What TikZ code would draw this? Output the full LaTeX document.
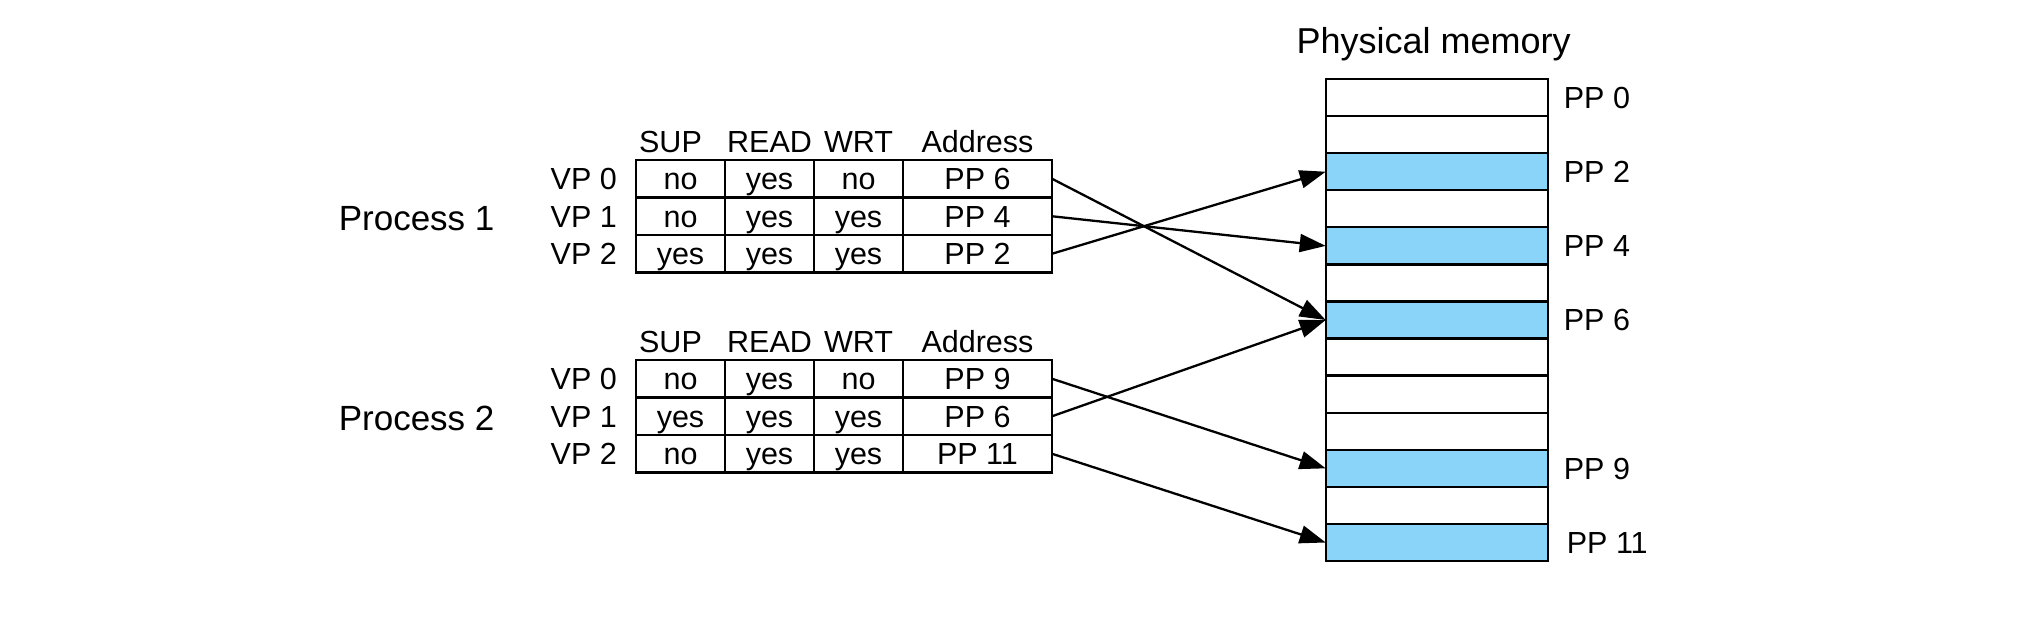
\documentclass[tikz,border=0pt]{standalone}
\usepackage{fontspec}
\setmainfont{Liberation Sans}
\usetikzlibrary{positioning,arrows.meta}
\definecolor{ppblue}{RGB}{138,212,250}

\begin{document}
\begin{tikzpicture}[x=1pt, y=-1pt, line width=2.3pt,
    txt/.style = {inner sep=0pt, text height=21.5pt, text depth=0pt, font=\fontsize{30.5}{36}\selectfont},
    cell/.style = {txt, draw, outer sep=0pt, minimum height=37.5pt},
    narrow/.style = {cell, minimum width=89pt},
    wide/.style = {cell, minimum width=149pt},
    frame/.style = {draw, inner sep=0pt, outer sep=0pt, minimum width=222pt, minimum height=37.08pt},
    used/.style = {frame, fill=ppblue},
    arrow/.style = {-{Triangle[length=26pt, width=18pt]}}]
    \useasboundingbox (0,0) rectangle (2042,622);

    % process 1
    \node[narrow, anchor=north west] (a0) at (636,160) {no};
    \node[narrow] (a1) [right=0pt of a0] {yes};
    \node[narrow] (a2) [right=0pt of a1] {no};
    \node[wide] (a3) [right=0pt of a2] {PP 6};
    \node[narrow] (b0) [below=0pt of a0] {no};
    \node[narrow] (b1) [right=0pt of b0] {yes};
    \node[narrow] (b2) [right=0pt of b1] {yes};
    \node[wide] (b3) [right=0pt of b2] {PP 4};
    \node[narrow] (c0) [below=0pt of b0] {yes};
    \node[narrow] (c1) [right=0pt of c0] {yes};
    \node[narrow] (c2) [right=0pt of c1] {yes};
    \node[wide] (c3) [right=0pt of c2] {PP 2};

    \node[txt] (ha0) [above=6.7pt of a0, xshift=-10pt] {SUP};
    \node[txt] (ha1) [above=6.7pt of a1] {READ};
    \node[txt] (ha2) [above=6.7pt of a2] {WRT};
    \node[txt] (ha3) [above=6.7pt of a3] {Address};
    \node[txt] (va0) [left=18pt of a0] {VP 0};
    \node[txt] (va1) [left=18pt of b0] {VP 1};
    \node[txt] (va2) [left=18pt of c0] {VP 2};
    \node[inner sep=0pt, font=\fontsize{35}{42}\selectfont] (p1) [left=54pt of va1, yshift=-2pt] {Process 1};

    % process 2
    \node[narrow, anchor=north west] (d0) at (636,360) {no};
    \node[narrow] (d1) [right=0pt of d0] {yes};
    \node[narrow] (d2) [right=0pt of d1] {no};
    \node[wide] (d3) [right=0pt of d2] {PP 9};
    \node[narrow] (e0) [below=0pt of d0] {yes};
    \node[narrow] (e1) [right=0pt of e0] {yes};
    \node[narrow] (e2) [right=0pt of e1] {yes};
    \node[wide] (e3) [right=0pt of e2] {PP 6};
    \node[narrow] (f0) [below=0pt of e0] {no};
    \node[narrow] (f1) [right=0pt of f0] {yes};
    \node[narrow] (f2) [right=0pt of f1] {yes};
    \node[wide] (f3) [right=0pt of f2] {PP 11};

    \node[txt] (hd0) [above=6.7pt of d0, xshift=-10pt] {SUP};
    \node[txt] (hd1) [above=6.7pt of d1] {READ};
    \node[txt] (hd2) [above=6.7pt of d2] {WRT};
    \node[txt] (hd3) [above=6.7pt of d3] {Address};
    \node[txt] (vd0) [left=18pt of d0] {VP 0};
    \node[txt] (vd1) [left=18pt of e0] {VP 1};
    \node[txt] (vd2) [left=18pt of f0] {VP 2};
    \node[inner sep=0pt, font=\fontsize{35}{42}\selectfont] (p2) [left=54pt of vd1, yshift=-2pt] {Process 2};

    % physical memory
    \node[frame, anchor=north west] (m0) at (1325.7,79) {};
    \node[frame] (m1) [below=0pt of m0] {};
    \node[used] (m2) [below=0pt of m1] {};
    \node[frame] (m3) [below=0pt of m2] {};
    \node[used] (m4) [below=0pt of m3] {};
    \node[frame] (m5) [below=0pt of m4] {};
    \node[used] (m6) [below=0pt of m5] {};
    \node[frame] (m7) [below=0pt of m6] {};
    \node[frame] (m8) [below=0pt of m7] {};
    \node[frame] (m9) [below=0pt of m8] {};
    \node[used] (m10) [below=0pt of m9] {};
    \node[frame] (m11) [below=0pt of m10] {};
    \node[used] (m12) [below=0pt of m11] {};

    \node[txt] (l0) [right=15pt of m0] {PP 0};
    \node[txt] (l2) [right=15pt of m2] {PP 2};
    \node[txt] (l4) [right=15pt of m4] {PP 4};
    \node[txt] (l6) [right=15pt of m6] {PP 6};
    \node[txt] (l10) [right=15pt of m10] {PP 9};
    \node[txt] (l12) [right=18pt of m12] {PP 11};
    \node[inner sep=0pt, text depth=0pt, font=\fontsize{36}{43}\selectfont] (pm) [above=24pt of m0, xshift=-3pt] {Physical memory};

    \draw[arrow] (a3.east) -- (m6.west);
    \draw[arrow] (b3.east) -- (m4.west);
    \draw[arrow] (c3.east) -- (m2.west);
    \draw[arrow] (d3.east) -- (m10.west);
    \draw[arrow] (e3.east) -- (m6.west);
    \draw[arrow] (f3.east) -- (m12.west);

\end{tikzpicture}
\end{document}
